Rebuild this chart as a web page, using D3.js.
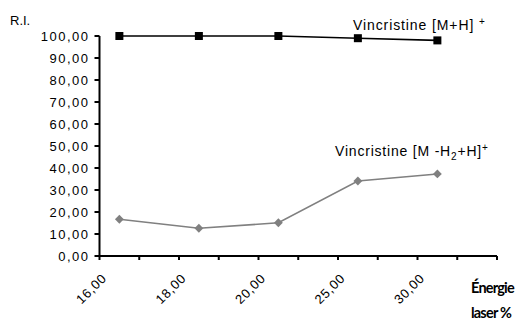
<!DOCTYPE html>
<html>
<head>
<meta charset="utf-8">
<script src="https://cdn.jsdelivr.net/npm/d3@7"></script>
<style>
  html, body { margin: 0; padding: 0; background: #fff; }
  svg { display: block; }
  text { font-family: "Liberation Sans", Arial, sans-serif; fill: #000; }
</style>
</head>
<body>
<svg id="chart" width="517" height="322"></svg>
<script>
// Laser energy levels (%), one per category slot pair
const categories = ["16,00", "18,00", "20,00", "25,00", "30,00"];
// Relative intensity of the protonated molecule
const seriesMH = [100, 100, 100, 99, 98];
// Relative intensity of the dehydrogenated ion
const seriesMH2 = [16.7, 12.6, 15.1, 34.1, 37.3];
// Y axis ticks
const yTicks = [0, 10, 20, 30, 40, 50, 60, 70, 80, 90, 100];
const yFormat = v => v.toFixed(2).replace(".", ",");

const svg = d3.select("#chart");

// The category axis has twice as many slots as energy levels; each level sits in every other slot
const slotCount = categories.length * 2;
const x = d3.scaleLinear().domain([0, slotCount]).range([99.5, 497]);
const y = d3.scaleLinear().domain([0, 100]).range([256, 36]);
const xPos = i => x(i * 2 + 0.5);

// Y axis
const yAxis = svg.append("g").attr("transform", "translate(99.5,0)");
yAxis.append("line").attr("x1", 0).attr("x2", 0).attr("y1", y(100)).attr("y2", y(0))
  .attr("stroke", "#000").attr("stroke-width", 2);
yAxis.selectAll("line.tick").data(yTicks).join("line").attr("class", "tick")
  .attr("x1", -5).attr("x2", 0).attr("y1", d => y(d)).attr("y2", d => y(d))
  .attr("stroke", "#000").attr("stroke-width", 2);
yAxis.selectAll("text").data(yTicks).join("text")
  .attr("x", -10).attr("y", d => y(d)).attr("dy", "0.36em")
  .attr("text-anchor", "end")
  .style("font-size", "13px").style("letter-spacing", "1.5px")
  .text(yFormat);

// X axis
const xAxis = svg.append("g").attr("transform", "translate(0,256)");
xAxis.append("line").attr("x1", x(0) - 1).attr("x2", x(slotCount)).attr("y1", 0).attr("y2", 0)
  .attr("stroke", "#000").attr("stroke-width", 2);
xAxis.selectAll("line.tick").data(d3.range(slotCount + 1)).join("line").attr("class", "tick")
  .attr("x1", d => x(d)).attr("x2", d => x(d)).attr("y1", 0).attr("y2", 4)
  .attr("stroke", "#000").attr("stroke-width", 2);
xAxis.selectAll("text").data(categories).join("text")
  .attr("transform", (d, i) => `translate(${xPos(i) - 12},${23}) rotate(-45)`)
  .attr("text-anchor", "end")
  .style("font-size", "13px").style("letter-spacing", "0.8px")
  .text(d => d);

// Axis titles
svg.append("text").attr("x", 10).attr("y", 25)
  .style("font-size", "13px").text("R.I.");
const xTitle = svg.append("text")
  .style("font-family", "Lato, 'Open Sans', sans-serif").style("font-weight", "bold")
  .style("font-size", "14.5px").style("letter-spacing", "-0.8px");
xTitle.append("tspan").attr("x", 471).attr("y", 293).text("Énergie");
xTitle.append("tspan").attr("x", 471).attr("y", 318).text("laser %");

// Series lines
const line = d3.line().x((d, i) => xPos(i)).y(d => y(d));
svg.append("path").datum(seriesMH2).attr("d", line)
  .attr("fill", "none").attr("stroke", "#808080").attr("stroke-width", 1.6);
svg.append("path").datum(seriesMH).attr("d", line)
  .attr("fill", "none").attr("stroke", "#000").attr("stroke-width", 1.6);

// Markers
svg.selectAll("path.diamond").data(seriesMH2).join("path").attr("class", "diamond")
  .attr("d", d3.symbol(d3.symbolDiamond2, 50))
  .attr("transform", (d, i) => `translate(${xPos(i)},${y(d)})`)
  .attr("fill", "#808080");
svg.selectAll("rect.square").data(seriesMH).join("rect").attr("class", "square")
  .attr("x", (d, i) => xPos(i) - 4).attr("y", d => y(d) - 4)
  .attr("width", 8).attr("height", 8).attr("fill", "#000");

// Series labels
const lab1 = svg.append("text").attr("x", 353).attr("y", 30)
  .style("font-size", "14px").style("letter-spacing", "0.9px");
lab1.append("tspan").text("Vincristine [M+H] ");
lab1.append("tspan").attr("dy", -5).style("font-size", "10px").text("+");

const lab2 = svg.append("text").attr("x", 335).attr("y", 156)
  .style("font-size", "14px").style("letter-spacing", "0.8px");
lab2.append("tspan").text("Vincristine [M -H");
lab2.append("tspan").attr("dy", 4).style("font-size", "10px").text("2");
lab2.append("tspan").attr("dy", -4).text("+H]");
lab2.append("tspan").attr("dy", -5).style("font-size", "10px").text("+");
</script>
</body>
</html>
